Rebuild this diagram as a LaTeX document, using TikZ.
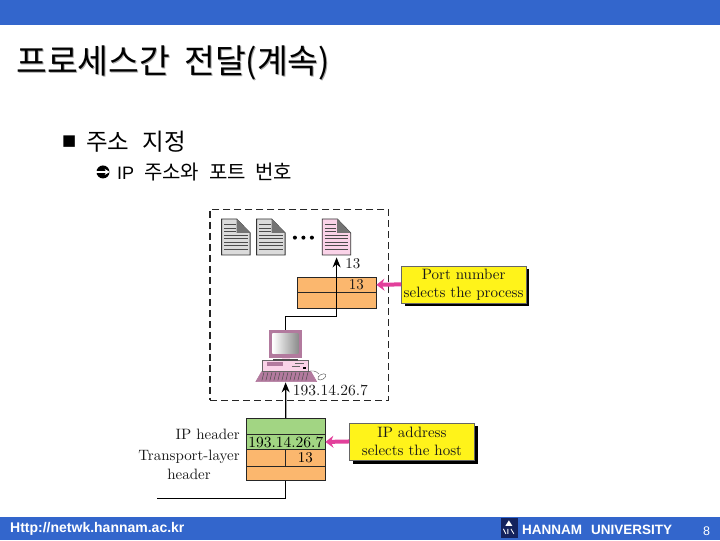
\documentclass[tikz,border=0pt]{standalone}
\usepackage{fontspec}
\setmainfont{lmroman10-regular.otf}
\newfontfamily\cjk{Noto Sans CJK KR}
\newfontfamily\arialfont{Liberation Sans}
\newfontfamily\dejavu{DejaVu Sans}
\usetikzlibrary{arrows.meta,shadows}
\definecolor{bandblue}{HTML}{3366CC}
\definecolor{cellorange}{HTML}{FBB76E}
\definecolor{cellgreen}{HTML}{A2D583}
\definecolor{notepink}{HTML}{E2409B}
\definecolor{mauve}{HTML}{B27A9E}
\definecolor{pcpink}{HTML}{FAD3E8}
\definecolor{logonavy}{HTML}{14235E}
\begin{document}
\begin{tikzpicture}[x=1pt,y=-1pt]
\tikzset{
  band/.style={fill=bandblue,draw=none,minimum width=720pt,inner sep=0pt,anchor=north west},
  cell/.style={draw=black!85,line width=.8pt,inner sep=0pt,anchor=north west,
    font=\fontsize{15}{17}\selectfont},
  orangecell/.style={cell,fill=cellorange},
  greencell/.style={cell,fill=cellgreen},
  plain/.style={inner sep=0pt,font=\fontsize{15}{18}\selectfont,text=black!90},
  note/.style={draw=black!60,fill=yellow!90!white,line width=.5pt,inner sep=0pt,
    align=center,font=\fontsize{15}{18}\selectfont,text=black!90,
    drop shadow={shadow xshift=3.5pt,shadow yshift=-3.5pt,opacity=1,fill=black}},
  wire/.style={line width=1.25pt,black},
  wiretip/.style={wire,-{Stealth[length=10pt,width=8pt]}},
  pointer/.style={line width=4pt,notepink,-{Stealth[length=8pt,width=12pt]}},
  bandtext/.style={inner sep=0pt,text=white,anchor=west},
  pics/docsheet/.style={code={
    \fill[#1] (0,0) -- (15,0) -- (28.5,14) -- (28.5,36) -- (0,36) -- cycle;
    \foreach \ly in {6,9.5,13,16.5,20,23.5,27,30.5}
      \draw[black!70,line width=.9pt] (2.5,\ly) -- (\ifdim\ly pt<14pt 14\else 26\fi,\ly);
    \draw[black!80,line width=.8pt] (0,0) -- (15,0) -- (28.5,14) -- (28.5,36) -- (0,36) -- cycle;
    \fill[black!55] (15,0) -- (15,14) -- (28.5,14) -- cycle;
  }}
}

\node[band,minimum height=25pt] (topBand) at (0,0) {};
\node[band,minimum height=23pt] (footBand) at (0,517) {};

\node[inner sep=0pt,anchor=west,text=black!35,font=\cjk\fontsize{33.5}{35}\selectfont] (titleShade) at (17,63.5)
  {프로세스간\hspace{14pt}전달(계속)};
\node[inner sep=0pt,anchor=west,font=\cjk\fontsize{33.5}{35}\selectfont] (title) at (16,62.5)
  {프로세스간\hspace{14pt}전달(계속)};
\node[inner sep=0pt,anchor=west,font=\dejavu\fontsize{15}{15}\selectfont] (bulletMain) at (62,142) {■};
\node[inner sep=0pt,anchor=west,font=\cjk\fontsize{23.5}{25}\selectfont] (bodyMain) at (86,142)
  {주소\hspace{13pt}지정};
\node[circle,fill=black,inner sep=0pt,minimum size=13pt] (bulletSub) at (103,172) {};
\draw[white,line width=1.3pt,-{Stealth[length=5pt,width=6pt]}] (bulletSub.west) -- (bulletSub.east);
\node[inner sep=0pt,anchor=west,font=\arialfont\fontsize{18}{20}\selectfont] (bodySub) at (117,172)
  {IP\hspace{10pt}{\cjk\fontsize{20}{22}\selectfont 주소와\hspace{10pt}포트\hspace{9pt}번호}};

\node[draw=black!85,line width=1.2pt,dash pattern=on 7pt off 4pt,inner sep=0pt,
  minimum width=178.5pt,minimum height=191.3pt,anchor=north west] (hostBox) at (209.5,208.7) {};

\pic at (221.7,219) {docsheet=black!14};
\pic at (256.7,219) {docsheet=black!14};
\pic at (322.3,219) {docsheet=pcpink};
\foreach \dx in {295,303.5,312}
  \fill[black] (\dx,237.7) circle (2pt);
\coordinate (docFoot) at (336.7,257.5);

\node[orangecell,minimum width=79pt,minimum height=15.6pt] (portTop) at (296.7,276.7) {};
\node[orangecell,minimum width=79pt,minimum height=15.6pt] (portLow) at (296.7,292.3) {};
\node[plain] (portNum) at (356.5,284.5) {13};
\node[plain] (portTag) at (353,264) {13};
\node[note,minimum width=124.4pt,minimum height=37pt,anchor=north west] (portNote) at (401.3,265.7)
  {Port number\\selects the process};
\draw[pointer] (portNote.west) -- (portTop.east);

\coordinate (pcTop) at (285.7,330.7);
\coordinate (pcFoot) at (285.7,382.5);
\draw[wiretip] (pcTop) |- (336.7,316.7) -- (docFoot);

\draw[mauve,line width=.6pt,fill=mauve] (261.7,371.7) -- (311,371.7) -- (316.7,381.7) -- (256,381.7) -- cycle;
\foreach \kx in {264,268,...,308}
  \draw[black!70,line width=.5pt] (\kx,372.5) -- (\kx-2,380.5);
\draw[black!60,fill=pcpink,line width=.5pt] (262.3,360.7) rectangle (308.3,371.7);
\fill[mauve] (266.7,362.3) rectangle (283,366);
\draw[black!60,line width=.7pt] (295,363.5) -- (304,363.5) (292,366) -- (300,366);
\fill[black] (303,367) rectangle (306,369.5);
\draw[black!70,line width=.4pt] (308,372) .. controls (312,370) and (316,371) .. (319,374);
\draw[black!70,fill=white,line width=.4pt,rotate around={30:(322,377)}] (322,377) ellipse (4.5pt and 2.5pt);
\fill[pcpink] (282,356) rectangle (290,359.5);
\fill[black!70] (273,358.8) rectangle (298,360.7);
\draw[mauve,fill=mauve] (269,330.7) rectangle (301.7,357);
\shade[left color=white,right color=black!45] (272.5,334) rectangle (298.5,354);

\node[plain,font=\fontsize{15.5}{18}\selectfont] (hostAddr) at (330.5,391) {193.14.26.7};

\node[greencell,minimum width=78.4pt,minimum height=15.7pt] (ipTop) at (246.3,418.3) {};
\node[greencell,minimum width=78.4pt,minimum height=15.3pt,font=\fontsize{15.5}{17}\selectfont] (ipAddr) at (246.3,434) {193.14.26.7};
\node[orangecell,minimum width=39.2pt,minimum height=16.4pt] (pktLeft) at (246.3,449.3) {};
\node[orangecell,minimum width=39.2pt,minimum height=16.4pt] (pktPort) at (285.5,449.3) {13};
\node[orangecell,minimum width=78.4pt,minimum height=14.6pt] (pktLow) at (246.3,465.7) {};
\node[plain,anchor=east] (ipLabel) at (240,434) {IP header};
\node[plain,anchor=east] (layerLabel) at (240,457) {Transport-layer};
\node[plain] (layerLabelB) at (189,474.5) {header};
\node[note,minimum width=125pt,minimum height=37.3pt,anchor=north west] (ipNote) at (349.3,422.7)
  {IP address\\selects the host};
\draw[pointer] (ipNote.west) -- (ipAddr.east);

\coordinate (lineEnd) at (157.3,498.3);
\draw[wire] (pktLow.south) |- (lineEnd);
\draw[wiretip] (ipTop.north) -- (pcFoot);

\node[bandtext,font=\arialfont\bfseries\fontsize{14}{16}\selectfont] (siteUrl) at (10,529) {Http://netwk.hannam.ac.kr};
\node[fill=logonavy,minimum width=17pt,minimum height=20pt,inner sep=0pt,anchor=north west] (logoBox) at (500.5,518) {};
\fill[white] (509,520.5) -- (512.5,526) -- (505.5,526) -- cycle;
\draw[white,line width=.8pt] (503.5,529) -- (506,534) (508,529) -- (508,534) (511,529) -- (514,534);
\node[bandtext,font=\arialfont\bfseries\fontsize{13.5}{15}\selectfont] (uniName) at (522,530)
  {HANNAM\hspace{9pt}UNIVERSITY};
\node[bandtext,font=\arialfont\fontsize{12.5}{14}\selectfont] (pageNum) at (703,531) {8};

\useasboundingbox (0,0) rectangle (720,540);
\end{tikzpicture}
\end{document}
